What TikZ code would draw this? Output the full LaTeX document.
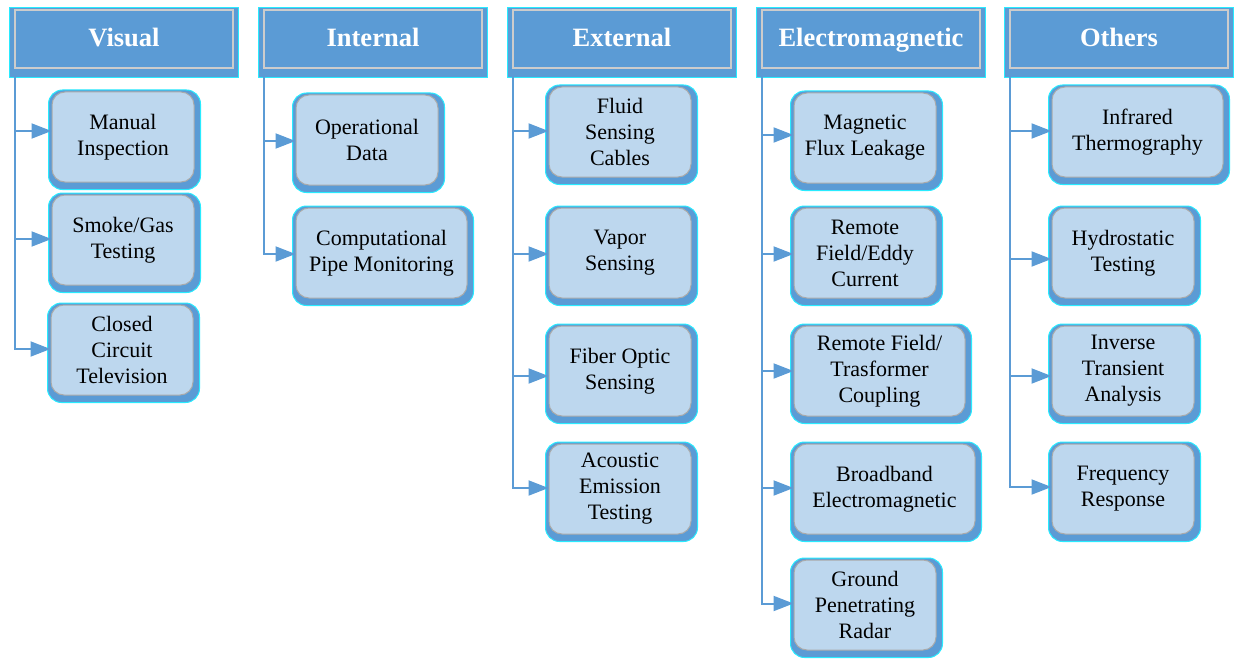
\documentclass[tikz,border=0pt]{standalone}
\usepackage{fontspec}
\setmainfont{Liberation Serif}
\newfontfamily\serf{Liberation Serif}
\usetikzlibrary{arrows.meta,backgrounds}
\definecolor{mblue}{RGB}{91,155,213}
\definecolor{lblue}{RGB}{189,215,238}
\definecolor{glow}{RGB}{40,235,255}
\definecolor{edgegray}{RGB}{170,170,170}
\tikzset{
  x=1pt,y=1pt,
  headbox/.style={rectangle,fill=mblue,draw=edgegray!60,line width=1.2pt,minimum width=218pt,minimum height=58pt,
    text=white,font=\serf\fontsize{26.5}{30}\selectfont\bfseries,inner sep=0pt,text height=18pt,text depth=3pt},
  headbg/.style={fill=mblue,draw=glow,line width=1pt},
  itembox/.style={rectangle,rounded corners=13pt,fill=lblue,draw=edgegray,line width=1pt,
    minimum width=142pt,minimum height=90pt,align=center,inner sep=2pt,
    font=\serf\fontsize{22}{26}\selectfont},
  itembg/.style={fill=mblue,draw=glow,line width=1pt,rounded corners=14pt},
  conn/.style={draw=mblue,line width=2pt,-{Triangle[length=20pt,width=15pt]}},
}
\begin{document}
\begin{tikzpicture}
\useasboundingbox (0,0) rectangle (1238,-658);
% headers
\node[headbox] (hv) at (124,-39) {Visual};
\node[headbox] (hi) at (373,-39) {Internal};
\node[headbox] (he) at (622,-39) {External};
\node[headbox] (hm) at (871,-39) {Electromagnetic};
\node[headbox] (ho) at (1119,-39) {Others};
% trunk starts
\coordinate (tv) at (15,-77);
\coordinate (ti) at (264,-77);
\coordinate (te) at (513,-77);
\coordinate (tm) at (762,-77);
\coordinate (to) at (1010,-77);
% visual
\node[itembox] (mi) at (123,-137) {Manual\\Inspection};
\node[itembox] (sg) at (123,-240) {Smoke/Gas\\Testing};
\node[itembox] (cc) at (122,-350) {Closed\\Circuit\\Television};
% internal
\node[itembox] (od) at (367,-140) {Operational\\Data};
\node[itembox,minimum width=171pt] (cp) at (381.5,-253) {Computational\\Pipe Monitoring};
% external
\node[itembox] (fs) at (620,-132) {Fluid\\Sensing\\Cables};
\node[itembox] (vs) at (620,-253) {Vapor\\Sensing};
\node[itembox] (fo) at (620,-371) {Fiber Optic\\Sensing};
\node[itembox] (ae) at (620,-489) {Acoustic\\Emission\\Testing};
% electromagnetic
\node[itembox] (mf) at (865,-138) {Magnetic\\Flux Leakage};
\node[itembox] (rf) at (865,-253) {Remote\\Field/Eddy\\Current};
\node[itembox,minimum width=171pt] (rt) at (879.5,-371) {Remote Field/\\Trasformer\\Coupling};
\node[itembox,minimum width=181pt] (bb) at (884.5,-489) {Broadband\\Electromagnetic};
\node[itembox] (gp) at (865,-605) {Ground\\Penetrating\\Radar};
% others
\node[itembox,minimum width=171pt] (ir) at (1137.5,-132) {Infrared\\Thermography};
\node[itembox] (hy) at (1123,-253) {Hydrostatic\\Testing};
\node[itembox] (ia) at (1123,-371) {Inverse\\Transient\\Analysis};
\node[itembox] (fr) at (1123,-489) {Frequency\\Response};
% backgrounds
\begin{scope}[on background layer]
  \foreach \h in {hv,hi,he,hm,ho}{
    \draw[headbg] ([xshift=-5pt,yshift=2pt]\h.north west) rectangle ([xshift=5pt,yshift=-9pt]\h.south east);
  }
  \foreach \b in {mi,sg,cc,od,cp,fs,vs,fo,ae,mf,rf,rt,bb,gp,ir,hy,ia,fr}{
    \draw[itembg] ([xshift=-3pt,yshift=1.5pt]\b.north west) rectangle ([xshift=6pt,yshift=-7pt]\b.south east);
  }
\end{scope}
% connectors
\foreach \b/\s in {mi/6,sg/1,cc/1}{\draw[conn] (tv) |- ([yshift=\s pt]\b.west);}
\foreach \b/\s in {od/-1,cp/-1}{\draw[conn] (ti) |- ([yshift=\s pt]\b.west);}
\foreach \b/\s in {fs/1,vs/-1,fo/-5,ae/1}{\draw[conn] (te) |- ([yshift=\s pt]\b.west);}
\foreach \b/\s in {mf/3,rf/-1,rt/0,bb/1,gp/1.5}{\draw[conn] (tm) |- ([yshift=\s pt]\b.west);}
\foreach \b/\s in {ir/1,hy/-6,ia/-5,fr/2}{\draw[conn] (to) |- ([yshift=\s pt]\b.west);}
\end{tikzpicture}
\end{document}
